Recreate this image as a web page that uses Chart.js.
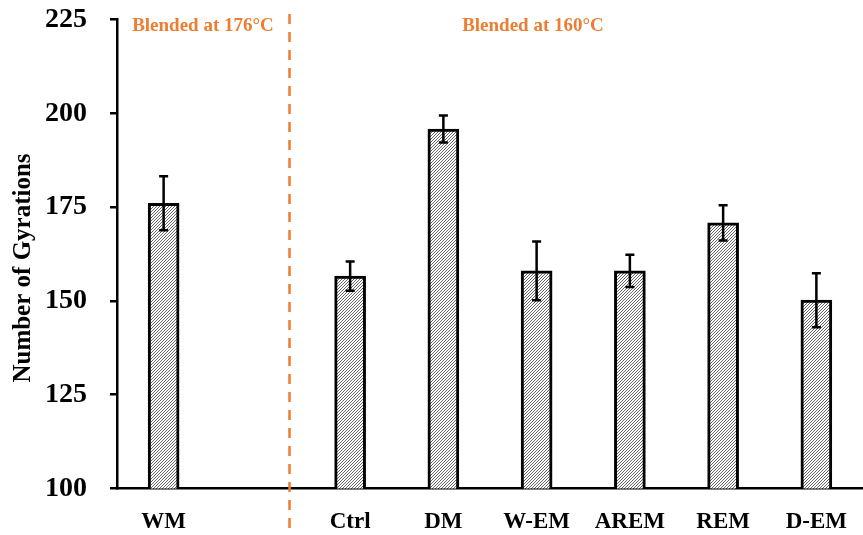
<!DOCTYPE html>
<html>
<head>
<meta charset="utf-8">
<script src="https://cdn.jsdelivr.net/npm/chart.js@4.4.1/dist/chart.umd.min.js"></script>
<style>
  html, body { margin: 0; padding: 0; background: #fff; }
  #wrap { width: 863px; height: 535px; }
</style>
</head>
<body>
<div id="wrap"><canvas id="gyr" width="863" height="535"></canvas></div>
<script>
const categories = ['WM', '', 'Ctrl', 'DM', 'W-EM', 'AREM', 'REM', 'D-EM'];
const gyrations = [176, null, 156.6, 195.8, 158, 158, 170.8, 150.2];
const errors = [7.2, null, 3.9, 3.6, 7.8, 4.3, 4.7, 7.2];
const yTicks = [100, 125, 150, 175, 200, 225];
const notes = ['Blended at 176\u00B0C', 'Blended at 160\u00B0C'];

const serif = "'Liberation Serif', 'Times New Roman', serif";
const orange = '#ED7D31';

// hatch fill like the excel pattern
function hatch() {
  const c = document.createElement('canvas');
  c.width = 3; c.height = 3;
  const g = c.getContext('2d');
  g.fillStyle = '#fff';
  g.fillRect(0, 0, 3, 3);
  g.strokeStyle = '#666';
  g.lineWidth = 1;
  g.beginPath();
  g.moveTo(0, 3); g.lineTo(3, 0);
  g.moveTo(-1, 1); g.lineTo(1, -1);
  g.moveTo(2, 4); g.lineTo(4, 2);
  g.stroke();
  return g.createPattern(c, 'repeat');
}

const extras = {
  id: 'extras',
  afterDatasetsDraw(chart) {
    const ctx = chart.ctx;
    const x = chart.scales.x, y = chart.scales.y;
    // error bars
    ctx.save();
    ctx.strokeStyle = '#000';
    ctx.lineWidth = 2.5;
    gyrations.forEach((v, i) => {
      if (v == null) return;
      const px = x.getPixelForValue(i);
      const top = y.getPixelForValue(v + errors[i]);
      const bot = y.getPixelForValue(v - errors[i]);
      ctx.beginPath();
      ctx.moveTo(px, top); ctx.lineTo(px, bot);
      ctx.moveTo(px - 4.5, top); ctx.lineTo(px + 4.5, top);
      ctx.moveTo(px - 4.5, bot); ctx.lineTo(px + 4.5, bot);
      ctx.stroke();
    });
    ctx.restore();
  },
  afterDraw(chart) {
    const ctx = chart.ctx;
    const x = chart.scales.x;
    const sep = x.getPixelForValue(1) + 0.35 * (x.getPixelForValue(2) - x.getPixelForValue(1));
    ctx.save();
    ctx.strokeStyle = orange;
    ctx.lineWidth = 2.5;
    ctx.setLineDash([10, 8]);
    ctx.beginPath();
    ctx.moveTo(sep, 14);
    ctx.lineTo(sep, 535);
    ctx.stroke();
    ctx.setLineDash([]);

    ctx.fillStyle = orange;
    ctx.font = 'bold 19px ' + serif;
    ctx.textAlign = 'center';
    ctx.textBaseline = 'middle';
    ctx.fillText(notes[0], 203, 26);
    ctx.fillText(notes[1], 533, 26);

    // y axis title
    ctx.fillStyle = '#000';
    ctx.font = 'bold 25px ' + serif;
    ctx.translate(24, 268);
    ctx.rotate(-Math.PI / 2);
    ctx.fillText('Number of Gyrations', 0, 0);
    ctx.restore();
  }
};

new Chart(document.getElementById('gyr'), {
  type: 'bar',
  data: {
    labels: categories,
    datasets: [{
      data: gyrations,
      backgroundColor: hatch(),
      borderColor: '#000',
      borderWidth: 3,
      barThickness: 31
    }]
  },
  options: {
    responsive: false,
    animation: false,
    layout: { padding: { top: 19.5, right: 0, left: 0, bottom: 0 } },
    plugins: { legend: { display: false }, tooltip: { enabled: false } },
    scales: {
      x: {
        afterFit(s) { s.height = 46.5; s.paddingLeft = 0; s.paddingRight = 0; },
        grid: { display: false, drawTicks: false },
        border: { display: true, color: '#000', width: 2.5 },
        ticks: { color: '#000', padding: 20, font: { family: serif, size: 23, weight: 'bold' } }
      },
      y: {
        min: 100, max: 225,
        afterFit(s) { s.width = 117; s.paddingTop = 0; s.paddingBottom = 0; },
        afterBuildTicks(s) { s.ticks = yTicks.map(v => ({ value: v })); },
        grid: { drawOnChartArea: false, drawTicks: true, tickLength: 7, color: '#000', lineWidth: 2.5 },
        border: { display: true, color: '#000', width: 2.5 },
        ticks: { color: '#000', padding: 23, font: { family: serif, size: 28, weight: 'bold' } }
      }
    }
  },
  plugins: [extras]
});
</script>
</body>
</html>
